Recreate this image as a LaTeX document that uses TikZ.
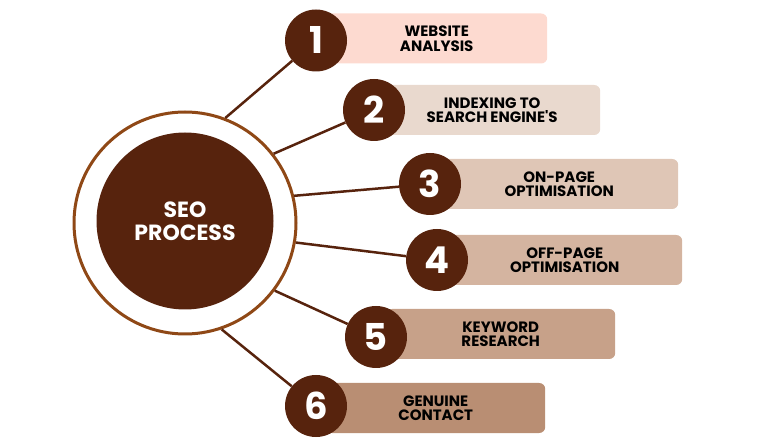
\documentclass[tikz,border=0pt]{standalone}
\usepackage{fontspec}
\setsansfont{Poppins}
\usetikzlibrary{shapes,positioning,calc}
\definecolor{seobrown}{RGB}{87,35,13}
\definecolor{ringbrown}{RGB}{143,72,22}
\definecolor{boxone}{RGB}{253,218,208}
\definecolor{boxtwo}{RGB}{233,217,206}
\definecolor{boxthree}{RGB}{223,198,182}
\definecolor{boxfour}{RGB}{212,180,160}
\definecolor{boxfive}{RGB}{199,161,137}
\definecolor{boxsix}{RGB}{185,142,115}
\begin{document}
\begin{tikzpicture}[
    x=1pt, y=1pt,
    every node/.style={font=\sffamily\bfseries},
    hub/.style={circle, fill=seobrown, minimum size=177pt, text=white, align=center, font=\sffamily\bfseries\fontsize{22}{23}\selectfont},
    hubring/.style={circle, draw=ringbrown, line width=3pt, minimum size=222pt},
    stepbox/.style={rectangle, rounded corners=6pt, minimum height=50pt, anchor=west, align=center, text=black, font=\sffamily\bfseries\fontsize{15}{14.5}\selectfont},
    numcircle/.style={circle, fill=seobrown, minimum size=62pt, inner sep=0pt, text=white, font=\sffamily\bfseries\fontsize{37}{37}\selectfont},
    spoke/.style={draw=seobrown, line width=2.5pt}
]
\useasboundingbox (0,0) rectangle (768,447);

% Central hub
\node[hubring] (ring) at (185,224) {};
\node[hub] (seo) at (185,226) {SEO\\PROCESS};

% Step boxes
\node[stepbox, fill=boxone, minimum width=221pt] (b1) at (326,408.5) {WEBSITE\\ANALYSIS};
\node[stepbox, fill=boxtwo, minimum width=216pt] (b2) at (384,337) {INDEXING TO\\SEARCH ENGINE\textquotesingle S};
\node[stepbox, fill=boxthree, minimum width=238pt] (b3) at (440,263) {ON-PAGE\\OPTIMISATION};
\node[stepbox, fill=boxfour, minimum width=235pt] (b4) at (447,187) {OFF-PAGE\\OPTIMISATION};
\node[stepbox, fill=boxfive, minimum width=229pt] (b5) at (386,113) {KEYWORD\\RESEARCH};
\node[stepbox, fill=boxsix, minimum width=219pt] (b6) at (326,39) {GENUINE\\CONTACT};

% Number circles
\node[numcircle] (n1) at ([xshift=-10pt,yshift=-2pt]b1.west) {1};
\node[numcircle] (n2) at ([xshift=-10pt]b2.west) {2};
\node[numcircle] (n3) at ([xshift=-10pt]b3.west) {3};
\node[numcircle] (n4) at ([xshift=-10pt]b4.west) {4};
\node[numcircle] (n5) at ([xshift=-10pt,yshift=-3pt]b5.west) {5};
\node[numcircle] (n6) at ([xshift=-10pt,yshift=2pt]b6.west) {6};

% Spokes
\draw[spoke] (ring.69) -- (n1);
\draw[spoke] (ring.38) -- (n2);
\draw[spoke] (ring.14) -- (n3);
\draw[spoke] (ring.-10) -- (n4);
\draw[spoke] (ring.-37) -- (n5);
\draw[spoke] (ring.-71) -- (n6);

\end{tikzpicture}
\end{document}
